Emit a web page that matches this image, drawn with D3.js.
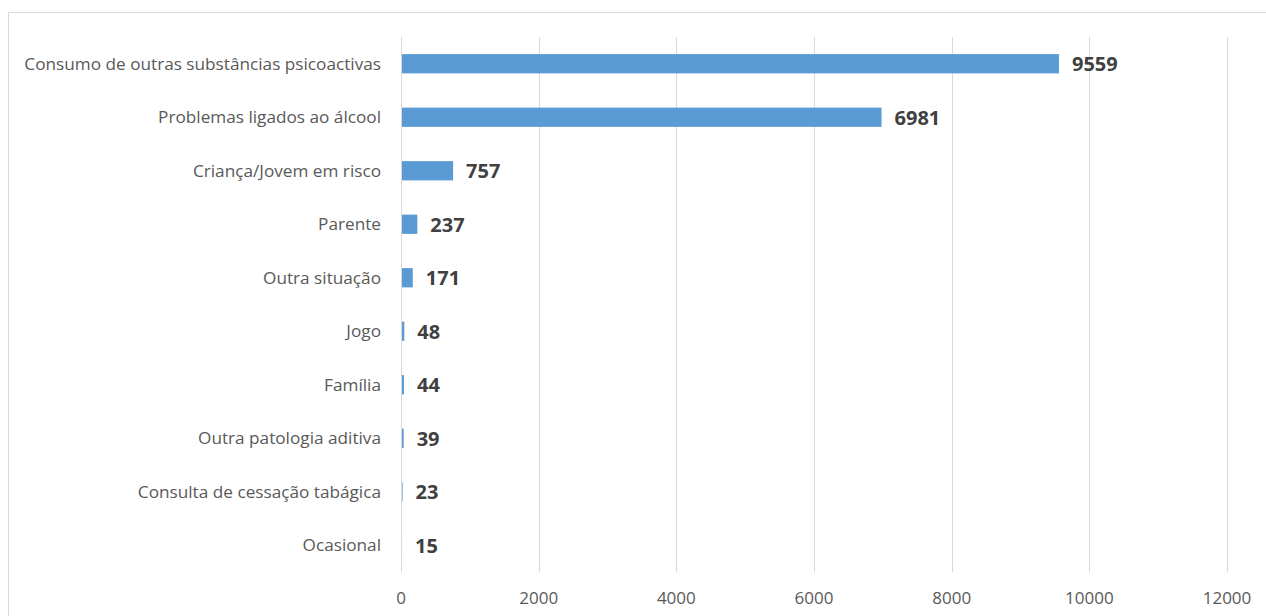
<!DOCTYPE html>
<html><head><meta charset="utf-8">
<script src="https://cdn.jsdelivr.net/npm/d3@7"></script>
<style>body{margin:0;background:#fff}svg{display:block}</style>
</head><body>
<svg id="c" width="1266" height="616"></svg>
<script>
const categories = ["Consumo de outras substâncias psicoactivas","Problemas ligados ao álcool","Criança/Jovem em risco","Parente","Outra situação","Jogo","Família","Outra patologia aditiva","Consulta de cessação tabágica","Ocasional"];
const values = [9559,6981,757,237,171,48,44,39,23,15];
const xTicks = [0,2000,4000,6000,8000,10000,12000];

const svg = d3.select("#c");
const font = "'Open Sans', 'Noto Sans', sans-serif";
svg.append("rect").attr("x",8.5).attr("y",12.5).attr("width",1270).attr("height",620)
  .attr("fill","#fff").attr("stroke","#d9d9d9");

const x = d3.scaleLinear().domain([0,12000]).range([401,1227]);
const y = d3.scaleBand().domain(categories).range([37,572]).paddingInner(0.64).paddingOuter(0.32);

svg.append("g").selectAll("line").data(xTicks).join("line")
  .attr("x1",d=>Math.round(x(d))+0.5).attr("x2",d=>Math.round(x(d))+0.5)
  .attr("y1",37).attr("y2",572).attr("stroke","#d9d9d9").attr("stroke-width",1);

svg.append("g").selectAll("text").data(xTicks).join("text")
  .attr("x",d=>x(d)).attr("y",604).attr("text-anchor","middle")
  .attr("font-family",font).attr("font-size",17).attr("fill","#595959").text(d=>d);

svg.append("g").selectAll("rect").data(values).join("rect")
  .attr("x",x(0)+1).attr("y",(d,i)=>y(categories[i]))
  .attr("width",d=>Math.max(0,x(d)-x(0)-1)).attr("height",y.bandwidth())
  .attr("fill","#5b9bd5");

svg.append("g").selectAll("text").data(categories).join("text")
  .attr("x",381).attr("y",d=>y(d)+y.bandwidth()/2).attr("dy","0.35em")
  .attr("text-anchor","end").attr("font-family",font).attr("font-size",17.2)
  .attr("fill","#595959").text(d=>d);

svg.append("g").selectAll("text").data(values).join("text")
  .attr("x",d=>x(d)+13).attr("y",(d,i)=>y(categories[i])+y.bandwidth()/2).attr("dy","0.38em")
  .attr("font-family",font).attr("font-size",20).attr("font-weight","bold")
  .attr("fill","#404040").text(d=>d);
</script>
</body></html>
